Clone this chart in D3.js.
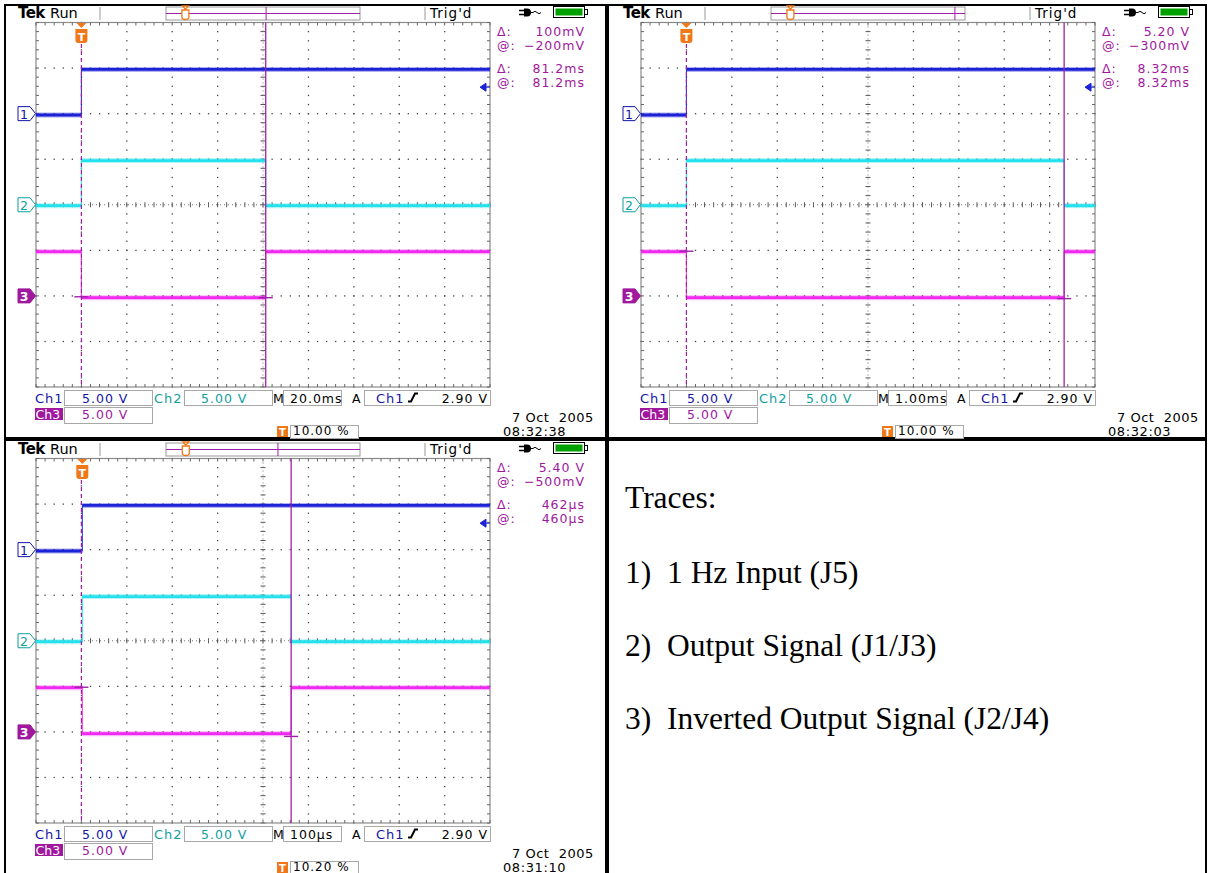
<!DOCTYPE html>
<html>
<head>
<meta charset="utf-8">
<script src="https://cdn.jsdelivr.net/npm/d3@7"></script>
<style>
  body { margin: 0; background: #fff; }
  svg { display: block; }
  .scope text { font-family: 'DejaVu Sans', sans-serif; }
  .notes text { font-family: 'Liberation Serif', 'Times New Roman', serif; }
</style>
</head>
<body>
<script>
// Page size
const width = 1208;
const height = 873;

// Channel settings shared by the three captures (Ch1, Ch2, Ch3)
const voltsPerDiv = 5;
const channelPosition = [2, 0, -2];      // ground marker, in divisions
const lowLevel = [-0.15, -0.1, -0.2];    // volts
const highLevel = [4.85, 4.85, 4.85];    // volts
const triggerLevel = 2.9;                // volts on Ch1

// One entry per capture
const timePerDiv = [20, 1, 100];         // ms, ms, µs
const triggerPercent = [10.0, 10.0, 10.2];
const pulseEnd = [81.2, 8.32, 460];      // Ch2 falls / Ch3 rises
const cursorTime1 = [0, 0, -2];
const cursorTime2 = [81.2, 8.32, 460];
const cursorVolt1 = [-0.1, 4.9, 4.9];    // read on Ch3
const cursorVolt2 = [-0.2, -0.3, -0.5];
const recordMark = [0.516, 0.948, 0.577];

// Readout texts
const deltaVoltLabels = ['100mV', '5.20 V', '5.40 V'];
const atVoltLabels = ['\u2212200mV', '\u2212300mV', '\u2212500mV'];
const deltaTimeLabels = ['81.2ms', '8.32ms', '462\u00b5s'];
const atTimeLabels = ['81.2ms', '8.32ms', '460\u00b5s'];
const scaleLabels = ['5.00 V', '5.00 V', '5.00 V'];
const timebaseLabels = ['20.0ms', '1.00ms', '100\u00b5s'];
const triggerLabels = ['10.00 %', '10.00 %', '10.20 %'];
const dateLabels = ['7 Oct  2005', '7 Oct  2005', '7 Oct  2005'];
const clockLabels = ['08:32:38', '08:32:03', '08:31:10'];

// Notes in the last cell
const notesTitle = 'Traces:';
const noteNumbers = ['1)', '2)', '3)'];
const noteTexts = ['1 Hz Input (J5)', 'Output Signal (J1/J3)', 'Inverted Output Signal (J2/J4)'];

// Colours
const traceColor = ['#1c22d6', '#24e2ec', '#f028f0'];
const labelColor = ['#1414a8', '#0fa0a0', '#a0189e'];
const cursorColor = '#a020a8';
const orange = '#f07818';

// Graticule geometry inside one capture
const gridLeft = 36, gridRight = 490, gridTop = 22.5, gridBottom = 387;

const svg = d3.select('body')
  .append('svg')
  .attr('width', width)
  .attr('height', height);

// Table frame
const frame = svg.append('g').attr('fill', '#000');
frame.append('rect').attr('x', 4).attr('y', 4).attr('width', 1203).attr('height', 2);
frame.append('rect').attr('x', 4).attr('y', 4).attr('width', 2).attr('height', 869);
frame.append('rect').attr('x', 605).attr('y', 4).attr('width', 4).attr('height', 869);
frame.append('rect').attr('x', 1205).attr('y', 4).attr('width', 2).attr('height', 869);
frame.append('rect').attr('x', 4).attr('y', 437).attr('width', 1203).attr('height', 4);

function label(g, x, y, s, color, size, anchor) {
  return g.append('text')
    .attr('x', x)
    .attr('y', y)
    .attr('fill', color || '#000')
    .attr('font-size', size || 12.5)
    .attr('letter-spacing', 1)
    .attr('text-anchor', anchor || 'start')
    .text(s);
}

function drawScope(i, ox, oy) {
  const g = svg.append('g')
    .attr('class', 'scope')
    .attr('transform', `translate(${ox}, ${oy})`);

  const tpd = timePerDiv[i];
  const tMin = -triggerPercent[i] / 10 * tpd;
  const x = d3.scaleLinear().domain([tMin, tMin + 10 * tpd]).range([gridLeft, gridRight]);
  const xDiv = d3.scaleLinear().domain([0, 10]).range([gridLeft, gridRight]);
  const yDiv = d3.scaleLinear().domain([-4, 4]).range([gridBottom, gridTop]);
  const yCh = ch => v => yDiv(channelPosition[ch] + v / voltsPerDiv);

  // Graticule
  const grid = g.append('g');
  const fx = d3.range(0, 51).map(k => k / 5);
  const fy = d3.range(0, 41).map(k => k / 5 - 4);
  const dots = [];
  [1, 2, 3, 4, 6, 7, 8, 9].forEach(c => fy.forEach(v => dots.push([xDiv(c), yDiv(v)])));
  [-3, -2, -1, 1, 2, 3].forEach(r => fx.forEach(c => dots.push([xDiv(c), yDiv(r)])));
  grid.selectAll('.dot')
    .data(dots)
    .enter()
    .append('rect')
    .attr('x', d => d[0] - 0.6)
    .attr('y', d => d[1] - 0.6)
    .attr('width', 1.3)
    .attr('height', 1.3)
    .attr('fill', '#444');

  // centre lines with small ticks
  grid.selectAll('.ctx')
    .data(fx)
    .enter()
    .append('line')
    .attr('x1', d => xDiv(d)).attr('x2', d => xDiv(d))
    .attr('y1', yDiv(0) - 2.5).attr('y2', yDiv(0) + 2.5)
    .attr('stroke', '#555');
  grid.selectAll('.cty')
    .data(fy)
    .enter()
    .append('line')
    .attr('y1', d => yDiv(d)).attr('y2', d => yDiv(d))
    .attr('x1', xDiv(5) - 2.5).attr('x2', xDiv(5) + 2.5)
    .attr('stroke', '#555');
  grid.append('line')
    .attr('x1', gridLeft).attr('x2', gridRight)
    .attr('y1', yDiv(0)).attr('y2', yDiv(0))
    .attr('stroke', '#777').attr('stroke-dasharray', '1 3');
  grid.append('line')
    .attr('x1', xDiv(5)).attr('x2', xDiv(5))
    .attr('y1', gridTop).attr('y2', gridBottom)
    .attr('stroke', '#777').attr('stroke-dasharray', '1 3');

  // border with inward ticks
  grid.append('rect')
    .attr('x', gridLeft).attr('y', gridTop)
    .attr('width', gridRight - gridLeft).attr('height', gridBottom - gridTop)
    .attr('fill', 'none').attr('stroke', '#8a8a8a').attr('stroke-width', 1.2);
  grid.selectAll('.btx')
    .data(fx)
    .enter()
    .append('path')
    .attr('d', d => `M${xDiv(d)},${gridTop}v3M${xDiv(d)},${gridBottom}v-3`)
    .attr('stroke', '#666');
  grid.selectAll('.bty')
    .data(fy)
    .enter()
    .append('path')
    .attr('d', d => `M${gridLeft},${yDiv(d)}h3M${gridRight},${yDiv(d)}h-3`)
    .attr('stroke', '#666');

  // Traces: [time, volts] breakpoints, each level holds until the next point
  const tMax = tMin + 10 * tpd;
  const traces = [
    [[tMin, lowLevel[0]], [0, highLevel[0]], [tMax, highLevel[0]]],
    [[tMin, lowLevel[1]], [0, highLevel[1]], [pulseEnd[i], lowLevel[1]], [tMax, lowLevel[1]]],
    [[tMin, highLevel[2]], [0, lowLevel[2]], [pulseEnd[i], highLevel[2]], [tMax, highLevel[2]]]
  ];

  traces.forEach((pts, ch) => {
    const y = yCh(ch);
    const step = d3.line()
      .x(d => x(d[0]))
      .y(d => y(d[1]))
      .curve(d3.curveStepAfter);
    g.append('path')
      .attr('d', step(pts))
      .attr('fill', 'none')
      .attr('stroke', traceColor[ch])
      .attr('stroke-width', 1);
    const runs = pts.slice(0, -1).map((p, k) => [p[0], pts[k + 1][0], p[1]]);
    [[5, 0.35], [2.8, 1]].forEach(([w, op]) => {
      g.selectAll(null)
        .data(runs)
        .enter()
        .append('line')
        .attr('x1', d => x(d[0])).attr('x2', d => x(d[1]))
        .attr('y1', d => y(d[2])).attr('y2', d => y(d[2]))
        .attr('stroke', traceColor[ch])
        .attr('stroke-width', w)
        .attr('opacity', op);
    });
  });

  // Cursors
  const y3 = yCh(2);
  g.append('line')
    .attr('x1', x(cursorTime1[i])).attr('x2', x(cursorTime1[i]))
    .attr('y1', 44).attr('y2', gridBottom)
    .attr('stroke', cursorColor).attr('stroke-width', 1.2)
    .attr('stroke-dasharray', '4 3');
  g.append('line')
    .attr('x1', x(cursorTime2[i])).attr('x2', x(cursorTime2[i]))
    .attr('y1', gridTop).attr('y2', gridBottom)
    .attr('stroke', cursorColor).attr('stroke-width', 1.3);
  [[cursorTime1[i], cursorVolt1[i]], [cursorTime2[i], cursorVolt2[i]]].forEach(d => {
    g.append('line')
      .attr('x1', x(d[0]) - 7).attr('x2', x(d[0]) + 7)
      .attr('y1', y3(d[1])).attr('y2', y3(d[1]))
      .attr('stroke', cursorColor).attr('stroke-width', 1.4);
  });

  // Trigger marker
  const tx = x(0);
  g.append('path')
    .attr('d', `M${tx - 5},23L${tx + 5},23L${tx},28Z`)
    .attr('fill', orange);
  g.append('path')
    .attr('d', `M${tx - 6},29H${tx + 6}V40Q${tx + 6},43 ${tx + 3},43H${tx - 3}Q${tx - 6},43 ${tx - 6},40Z`)
    .attr('fill', orange);
  g.append('text')
    .attr('x', tx).attr('y', 40.5)
    .attr('text-anchor', 'middle')
    .attr('font-size', 11).attr('font-weight', 'bold')
    .attr('fill', '#fff')
    .text('T');

  // Ch1 trigger level arrow on the right edge
  const yl = yCh(0)(triggerLevel);
  g.append('path')
    .attr('d', `M480,${yl}L486,${yl - 4}L486,${yl + 4}Z M486,${yl}H490`)
    .attr('fill', traceColor[0]).attr('stroke', traceColor[0]).attr('stroke-width', 1);

  // Channel ground markers
  channelPosition.forEach((p, ch) => {
    const yc = yDiv(p);
    g.append('path')
      .attr('d', `M18,${yc - 7}H30L35.5,${yc}L30,${yc + 7}H18Z`)
      .attr('fill', ch === 2 ? labelColor[2] : '#fff')
      .attr('stroke', ch === 2 ? labelColor[2] : labelColor[ch])
      .attr('stroke-width', 1);
    g.append('text')
      .attr('x', 24).attr('y', yc + 5)
      .attr('text-anchor', 'middle')
      .attr('font-size', 12.5)
      .attr('font-weight', ch === 2 ? 'bold' : 'normal')
      .attr('fill', ch === 2 ? '#fff' : labelColor[ch])
      .text(ch + 1);
  });

  // Status bar
  g.append('text')
    .attr('x', 18).attr('y', 18)
    .attr('font-size', 15).attr('font-weight', 'bold')
    .attr('letter-spacing', -0.6)
    .text('Tek');
  g.append('text')
    .attr('x', 50).attr('y', 18)
    .attr('font-size', 14.5)
    .text('Run');
  [100, 425].forEach(sx => {
    g.append('line')
      .attr('x1', sx).attr('x2', sx).attr('y1', 7).attr('y2', 20)
      .attr('stroke', '#999');
  });
  g.append('rect')
    .attr('x', 166).attr('y', 7).attr('width', 194).attr('height', 13)
    .attr('fill', 'none').attr('stroke', '#999');
  g.append('line')
    .attr('x1', 166).attr('x2', 360).attr('y1', 13.5).attr('y2', 13.5)
    .attr('stroke', cursorColor);
  const rx = 166 + recordMark[i] * 194;
  g.append('line')
    .attr('x1', rx).attr('x2', rx).attr('y1', 7).attr('y2', 20)
    .attr('stroke', cursorColor);
  const bx = 166 + triggerPercent[i] / 100 * 194;
  g.append('path')
    .attr('d', `M${bx - 3},6L${bx + 3},6L${bx},9Z M${bx - 3.5},10H${bx + 3.5}V17Q${bx + 3.5},19.5 ${bx},19.5Q${bx - 3.5},19.5 ${bx - 3.5},17Z`)
    .attr('fill', '#fff').attr('stroke', orange).attr('stroke-width', 1.3);
  label(g, 430, 18, "Trig'd", '#000', 13.5);

  // plug and battery
  g.append('path')
    .attr('d', 'M519,10.5H524M519,14.5H524')
    .attr('stroke', '#000').attr('stroke-width', 1.3);
  g.append('path')
    .attr('d', 'M524,8.5H527A4,4 0 0 1 527,16.5H524Z')
    .attr('fill', '#000');
  g.append('path')
    .attr('d', 'M531,12.5H533Q535,10 537,12.5T541,12.5')
    .attr('fill', 'none').attr('stroke', '#000').attr('stroke-width', 1);
  g.append('rect')
    .attr('x', 553.5).attr('y', 6.5).attr('width', 31).attr('height', 11)
    .attr('fill', '#fff').attr('stroke', '#000');
  g.append('rect')
    .attr('x', 555.5).attr('y', 8.5).attr('width', 27).attr('height', 7)
    .attr('fill', '#00a000');
  g.append('rect')
    .attr('x', 584.5).attr('y', 9.5).attr('width', 3).attr('height', 5)
    .attr('fill', '#fff').attr('stroke', '#000');

  // Cursor readouts
  const readouts = [
    ['\u0394:', deltaVoltLabels[i], 36],
    ['@:', atVoltLabels[i], 50],
    ['\u0394:', deltaTimeLabels[i], 72.5],
    ['@:', atTimeLabels[i], 86.5]
  ];
  readouts.forEach(r => {
    label(g, 497, r[2], r[0], labelColor[2]);
    label(g, 585, r[2], r[1], labelColor[2], 12.5, 'end');
  });

  // Bottom readouts
  const box = (bx0, by0, bw, bh) => g.append('rect')
    .attr('x', bx0 + 0.5).attr('y', by0 + 0.5).attr('width', bw).attr('height', bh)
    .attr('fill', '#fff').attr('stroke', '#a8a8a8');
  box(64, 390, 88, 15);
  box(184, 390, 88, 15);
  box(283, 390, 58, 15);
  box(364, 390, 126, 15);
  box(64, 407, 88, 16);
  box(290, 425, 68, 13);

  label(g, 35, 402.5, 'Ch1', labelColor[0], 13);
  label(g, 82, 402.5, scaleLabels[0], labelColor[0]);
  label(g, 154, 402.5, 'Ch2', labelColor[1], 13);
  label(g, 201, 402.5, scaleLabels[1], labelColor[1]);
  label(g, 273, 402.5, 'M', '#000', 12.5).attr('letter-spacing', 0);
  label(g, 290, 402.5, timebaseLabels[i], '#000');
  label(g, 352, 402.5, 'A', '#000');
  label(g, 376, 402.5, 'Ch1', labelColor[0], 13);
  g.append('path')
    .attr('d', 'M408,401.5H411L415,393.5H418')
    .attr('fill', 'none').attr('stroke', '#000').attr('stroke-width', 2);
  label(g, 488, 402.5, '2.90 V', '#000', 12.5, 'end');

  g.append('rect')
    .attr('x', 35).attr('y', 408).attr('width', 28).attr('height', 12)
    .attr('fill', labelColor[2]);
  label(g, 35.5, 418.5, 'Ch3', '#fff', 12.5).attr('letter-spacing', 0);
  label(g, 82, 419, scaleLabels[2], labelColor[2]);

  g.append('rect')
    .attr('x', 277).attr('y', 426).attr('width', 11).attr('height', 11)
    .attr('fill', orange);
  g.append('text')
    .attr('x', 282.5).attr('y', 435.5)
    .attr('text-anchor', 'middle')
    .attr('font-size', 10).attr('font-weight', 'bold')
    .attr('fill', '#fff')
    .text('T');
  label(g, 293, 434.5, triggerLabels[i], '#000', 12);

  label(g, 512, 422, dateLabels[i], '#000', 13)
    .attr('letter-spacing', 0.5)
    .style('white-space', 'pre');
  label(g, 503, 435.5, clockLabels[i], '#000', 13).attr('letter-spacing', 0.6);
}

drawScope(0, 0, 0);
drawScope(1, 605, 0);
drawScope(2, 0, 436);

// Notes cell
const notes = svg.append('g').attr('class', 'notes');
notes.append('text')
  .attr('x', 625).attr('y', 508)
  .attr('font-size', 31.5)
  .text(notesTitle);
noteTexts.forEach((t, k) => {
  const ny = 583 + k * 73;
  notes.append('text').attr('x', 625).attr('y', ny).attr('font-size', 31.5).text(noteNumbers[k]);
  notes.append('text').attr('x', 667).attr('y', ny).attr('font-size', 31.5).text(t);
});
</script>
</body>
</html>
